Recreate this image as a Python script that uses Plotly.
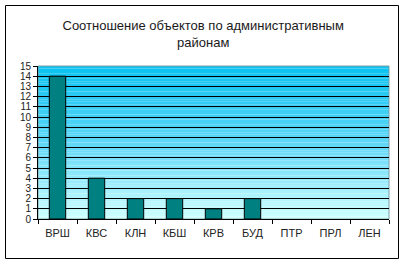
import plotly.graph_objects as go

categories = ["ВРШ", "КВС", "КЛН", "КБШ", "КРВ", "БУД", "ПТР", "ПРЛ", "ЛЕН"]
values = [14, 4, 2, 2, 1, 2, 0, 0, 0]
title_text = "Соотношение объектов по административным<br>районам"

W, H = 404, 262
ML, MR, MT, MB = 38, 15, 66, 43
pw, ph = W - ML - MR, H - MT - MB
ymax = 15

fig = go.Figure()
fig.add_trace(go.Bar(
    x=categories, y=values, width=0.42,
    marker=dict(color="#008080",
                line=dict(color="#000000", width=[1 if v > 0 else 0 for v in values])),
))

# vertical gradient background as thin bands below gridlines
top = (10, 195, 240)
mid = (95, 215, 248)
bot = (205, 255, 255)
n = 60
shapes = []
for i in range(n):
    t = i / (n - 1)
    if t < 0.5:
        a, b, s = bot, mid, t / 0.5
    else:
        a, b, s = mid, top, (t - 0.5) / 0.5
    c = tuple(round(a[k] + (b[k] - a[k]) * s) for k in range(3))
    shapes.append(dict(type="rect", xref="x domain", yref="y",
                       x0=0, x1=1, y0=ymax * i / n, y1=ymax * (i + 1) / n,
                       fillcolor="rgb(%d,%d,%d)" % c, line=dict(width=0), layer="below"))
def px_x(p):
    return (p - ML) / pw
def px_y(p):
    return (H - MB - p) / ph
# plot area thin gray border (right/top)
shapes.append(dict(type="rect", xref="x domain", yref="y domain", x0=0, x1=1, y0=0, y1=1,
                   line=dict(color="#7f9fa8", width=1), fillcolor="rgba(0,0,0,0)", layer="below"))
# outer chart border
shapes.append(dict(type="rect", xref="paper", yref="paper",
                   x0=px_x(5.5), x1=px_x(398.5), y0=px_y(258.5), y1=px_y(5.5),
                   line=dict(color="#000000", width=1), fillcolor="rgba(0,0,0,0)"))

fig.update_layout(
    width=W, height=H,
    margin=dict(l=ML, r=MR, t=MT, b=MB),
    paper_bgcolor="#ffffff", plot_bgcolor="rgba(0,0,0,0)",
    showlegend=False, bargap=0.58,
    shapes=shapes,
    title=dict(text=title_text, x=0.503, xanchor="center", y=1 - 30 / H, yanchor="middle",
               font=dict(family="Liberation Sans, Arial", size=13, color="#1a1a1a")),
    font=dict(family="Liberation Sans, Arial", size=11, color="#222222"),
)
fig.update_xaxes(
    type="category", showline=True, linecolor="#000000", linewidth=1,
    ticks="outside", tickson="boundaries", ticklen=4, tickcolor="#000000",
    showgrid=False, tickfont=dict(size=11), mirror=False, ticklabelstandoff=4,
)
fig.update_yaxes(
    range=[0, ymax], dtick=1, tick0=0, showline=True, linecolor="#000000", linewidth=1,
    ticks="outside", ticklen=4, tickcolor="#000000",
    showgrid=True, gridcolor="#000000", gridwidth=1, zeroline=False,
    tickfont=dict(size=10, family="Liberation Sans Narrow, Liberation Sans, Arial"),
)
fig.write_html("out.html")
